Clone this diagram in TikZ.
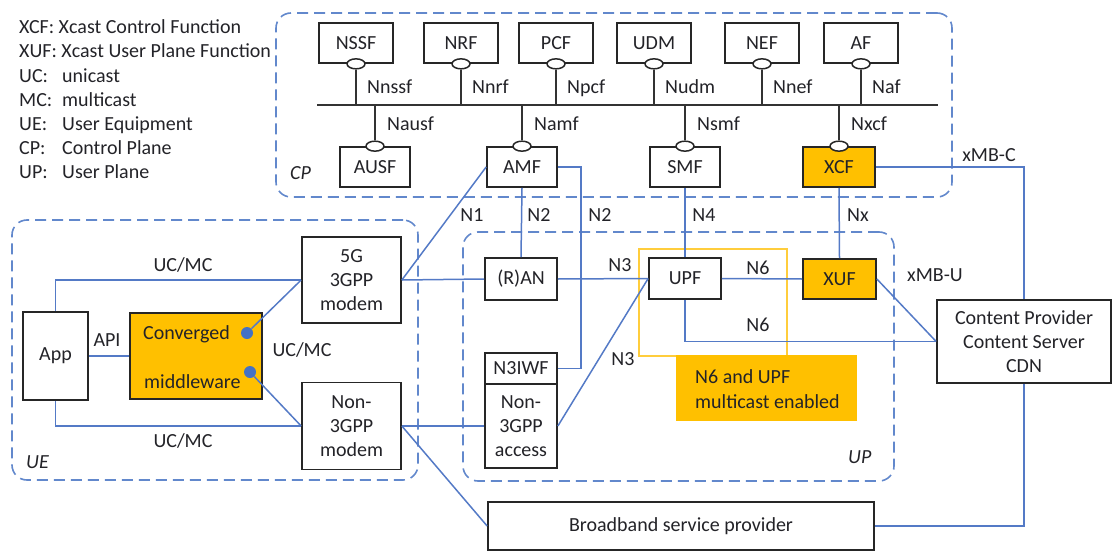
\documentclass[tikz,border=0pt]{standalone}
\usepackage{fontspec}
\setmainfont{Carlito}
\usetikzlibrary{shapes.geometric}
\definecolor{conn}{RGB}{84,122,198}
\definecolor{dashc}{RGB}{98,136,204}
\definecolor{gold}{RGB}{255,192,0}
\definecolor{ylw}{RGB}{255,205,60}
\definecolor{txt}{RGB}{35,35,40}
\definecolor{dotc}{RGB}{68,114,196}
\begin{document}
\begin{tikzpicture}[x=1pt,y=-1pt,
  every node/.style={font=\fontsize{20}{24}\selectfont, text=txt},
  box/.style={draw=black!85, line width=1.7pt, fill=white, inner sep=0pt, align=center},
  goldbox/.style={box, fill=gold},
  region/.style={draw=dashc, line width=1.6pt, dash pattern=on 11pt off 6pt, rounded corners=15pt, inner sep=0pt},
  wire/.style={draw=conn, line width=1.5pt},
  bus/.style={draw=black!80, line width=1.6pt},
  oval/.style={ellipse, draw=black!85, line width=1.5pt, fill=white, minimum width=18pt, minimum height=10pt, inner sep=0pt},
  lbl/.style={inner sep=0pt, text height=12pt, text depth=0pt},
  zone/.style={lbl, font=\fontsize{20}{24}\selectfont\itshape},
  dot/.style={circle, fill=dotc, minimum size=12pt, inner sep=0pt},
]
\useasboundingbox (0,0) rectangle (1113,551);

% legend
\node[lbl, anchor=west] (lg1) at (19,28) {XCF: Xcast Control Function};
\node[lbl, anchor=west] (lg2) at (19,52) {XUF: Xcast User Plane Function};
\node[lbl, anchor=west] (lg3a) at (19,76) {UC:};
\node[lbl, anchor=west] (lg3b) at (62,76) {unicast};
\node[lbl, anchor=west] (lg4a) at (19,100) {MC:};
\node[lbl, anchor=west] (lg4b) at (62,100) {multicast};
\node[lbl, anchor=west] (lg5a) at (19,124) {UE:};
\node[lbl, anchor=west] (lg5b) at (62,124) {User Equipment};
\node[lbl, anchor=west] (lg6a) at (19,148) {CP:};
\node[lbl, anchor=west] (lg6b) at (62,148) {Control Plane};
\node[lbl, anchor=west] (lg7a) at (19,172) {UP:};
\node[lbl, anchor=west] (lg7b) at (62,172) {User Plane};

% regions
\node[region, minimum width=676pt, minimum height=184pt] (cp) at (614,105) {};
\node[region, minimum width=406pt, minimum height=260pt] (ue) at (215,350) {};
\node[region, minimum width=431pt, minimum height=249pt] (up) at (678.5,356.5) {};
\node[zone, anchor=west] (cpl) at (290,173) {CP};
\node[zone, anchor=west] (uel) at (26,462) {UE};
\node[zone, anchor=west] (upl) at (848,457) {UP};

% CP: service bus
\coordinate (busL) at (317,105);
\coordinate (busR) at (938,105);
\draw[bus] (busL) -- (busR);

\foreach \n/\t/\x/\l in {nssf/NSSF/356/Nnssf, nrf/NRF/461/Nnrf, pcf/PCF/556/Npcf, udm/UDM/654/Nudm, nef/NEF/762/Nnef, af/AF/861/Naf}{
  \node[box, minimum width=74pt, minimum height=40pt] (\n) at (\x,43) {\t};
  \node[oval] (o\n) at (\n.south) {};
  \draw[bus] (o\n.south) -- (o\n.south |- busL);
  \node[lbl, anchor=west] (l\n) at (\x+11,87) {\l};
}

\node[box, minimum width=70pt, minimum height=40pt] (ausf) at (375,167) {AUSF};
\node[box, minimum width=70pt, minimum height=40pt] (amf) at (522,167) {AMF};
\node[box, minimum width=70pt, minimum height=40pt] (smf) at (685,167) {SMF};
\node[goldbox, minimum width=72pt, minimum height=40pt] (xcf) at (839,167) {XCF};
\foreach \n/\l in {ausf/Nausf, amf/Namf, smf/Nsmf, xcf/Nxcf}{
  \node[oval] (o\n) at (\n.north) {};
  \draw[bus] (o\n.north |- busL) -- (o\n.north);
  \node[lbl, anchor=west] (l\n) at ([xshift=12pt]o\n.north |- 0,124) {\l};
}

% UE
\node[box, minimum width=65pt, minimum height=88pt] (app) at (55.5,356) {App};
\node[goldbox, minimum width=132pt, minimum height=86pt] (mw) at (196,356) {};
\node[lbl, anchor=west] (mwt1) at (143,333) {Converged};
\node[lbl, anchor=west] (mwt2) at (144,382) {middleware};
\node[dot] (d1) at (247,333) {};
\node[dot] (d2) at (250,372) {};
\node[box, minimum width=99pt, minimum height=86pt] (m5g) at (351.5,280) {5G\\3GPP\\modem};
\node[box, minimum width=99pt, minimum height=87pt] (mn3) at (351.5,426) {Non-\\3GPP\\modem};

% UP
\node[draw=ylw, line width=1.5pt, minimum width=148pt, minimum height=107pt, inner sep=0pt] (hl) at (713,302.5) {};
\node[fill=gold, minimum width=181pt, minimum height=66pt, inner sep=0pt] (n6box) at (766.5,388) {};
\node[lbl, anchor=west] (n6t1) at (695,377) {N6 and UPF};
\node[lbl, anchor=west] (n6t2) at (695,402) {multicast enabled};
\node[box, minimum width=72pt, minimum height=42pt] (ran) at (521,279) {(R)AN};
\node[box, minimum width=72pt, minimum height=31pt] (n3iwf) at (521,368.5) {N3IWF};
\node[box, minimum width=72pt, minimum height=84pt] (acc) at (521,426) {Non-\\3GPP\\access};
\node[box, minimum width=72pt, minimum height=41pt] (upf) at (685,278.5) {UPF};
\node[goldbox, minimum width=73pt, minimum height=40pt] (xuf) at (839.5,279) {XUF};

% outside
\node[box, minimum width=174pt, minimum height=83pt] (cont) at (1024,341.5) {Content Provider\\Content Server\\CDN};
\node[box, minimum width=386pt, minimum height=48pt] (bb) at (681,526) {Broadband service provider};

% connectors
\draw[wire] (app.north) |- (m5g.west);
\draw[wire] (app.south) |- (mn3.west);
\draw[wire] (app.east) -- (mw.west);
\draw[wire] (d1) -- (m5g.west);
\draw[wire] (d2) -- (mn3.west);
\draw[wire] (m5g.east) -- (amf.west);
\draw[wire] (m5g.east) -- (ran.west);
\draw[wire] (amf.south) -- (ran.north);
\draw[wire] (amf.east) -- ++(23,0) |- (n3iwf.east);
\draw[wire] (ran.east) -- (upf.west);
\draw[wire] (acc.east) -- (upf.west);
\draw[wire] (mn3.east) -- (acc.west);
\draw[wire] (mn3.east) -- (bb.west);
\draw[wire] (smf.south) -- (upf.north);
\draw[wire] (xcf.south) -- (xuf.north);
\draw[wire] (upf.east) -- (xuf.west);
\draw[wire] (upf.south) |- (cont.west);
\draw[wire] (xuf.east) -- (cont.west);
\draw[wire] (xcf.east) -| (cont.north);
\draw[wire] (cont.south) |- (bb.east);

% connector labels
\node[lbl] (lapi) at (107,340) {API};
\node[lbl] (luc1) at (183,265) {UC/MC};
\node[lbl] (luc2) at (183,441) {UC/MC};
\node[lbl] (luc3) at (302,350) {UC/MC};
\node[lbl] (ln1) at (472,215) {N1};
\node[lbl] (ln2a) at (539,215) {N2};
\node[lbl] (ln2b) at (600,215) {N2};
\node[lbl] (ln4) at (704,215) {N4};
\node[lbl] (lnx) at (858,215) {Nx};
\node[lbl] (ln3a) at (620,265) {N3};
\node[lbl] (ln3b) at (623,359) {N3};
\node[lbl] (ln6a) at (758,268) {N6};
\node[lbl] (ln6b) at (758,325) {N6};
\node[lbl] (lxu) at (935,275) {xMB-U};
\node[lbl] (lxc) at (989,155) {xMB-C};
\end{tikzpicture}
\end{document}
